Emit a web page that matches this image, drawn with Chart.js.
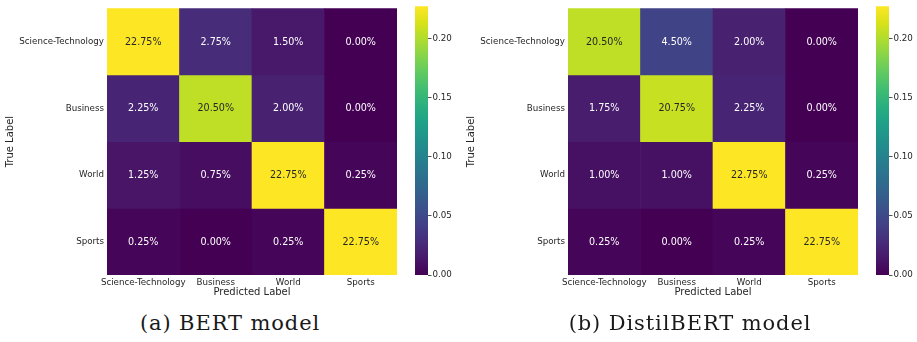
<!DOCTYPE html>
<html>
<head>
<meta charset="utf-8">
<script src="https://cdn.jsdelivr.net/npm/chart.js@4.4.1/dist/chart.umd.min.js"></script>
<style>
  body { margin: 0; background: #fff; }
  #page { position: relative; width: 917px; height: 342px; overflow: hidden; background: #fff; }
  canvas { position: absolute; top: 0; }
  .caption {
    position: absolute; top: 311px; width: 458px; text-align: center;
    font-family: "DejaVu Serif", serif; font-size: 21px; letter-spacing: 0.9px;
    line-height: 24px; color: #1a1a1a; white-space: nowrap;
  }
</style>
</head>
<body>
<div id="page">
  <canvas id="heat-a" width="400" height="300" style="left:0px"></canvas>
  <canvas id="bar-a" width="60" height="300" style="left:405px"></canvas>
  <canvas id="heat-b" width="400" height="300" style="left:461px"></canvas>
  <canvas id="bar-b" width="60" height="300" style="left:866px"></canvas>
  <div class="caption" style="left:1px">(a) BERT model</div>
  <div class="caption" style="left:461px">(b) DistilBERT model</div>
</div>
<script>
// Categories (rows = true label, columns = predicted label)
const classLabels = ['Science-Technology', 'Business', 'World', 'Sports'];

// Confusion matrices, as fractions of all samples
const bertMatrix = [
    [0.2275, 0.0275, 0.0150, 0.0000],
    [0.0225, 0.2050, 0.0200, 0.0000],
    [0.0125, 0.0075, 0.2275, 0.0025],
    [0.0025, 0.0000, 0.0025, 0.2275]
];
const distilMatrix = [
    [0.2050, 0.0450, 0.0200, 0.0000],
    [0.0175, 0.2075, 0.0225, 0.0000],
    [0.0100, 0.0100, 0.2275, 0.0025],
    [0.0025, 0.0000, 0.0025, 0.2275]
];

// Colour bar ticks
const colorbarTicks = [0.00, 0.05, 0.10, 0.15, 0.20];

const textColor = '#262626';
Chart.defaults.font.family = '"DejaVu Sans", sans-serif';
Chart.defaults.color = textColor;

// matplotlib viridis, 17 stops
const viridisStops = ['#440154', '#48186a', '#472d7b', '#424086', '#3b528b', '#33638d',
    '#2c728e', '#26828e', '#21918c', '#1fa088', '#28ae80', '#3fbc73', '#5ec962',
    '#84d44b', '#addc30', '#d8e219', '#fde725'];

function hexToRgb(h) {
    return [parseInt(h.slice(1, 3), 16), parseInt(h.slice(3, 5), 16), parseInt(h.slice(5, 7), 16)];
}

function viridisRgb(t) {
    t = Math.min(1, Math.max(0, t));
    const pos = t * (viridisStops.length - 1);
    const i = Math.min(Math.floor(pos), viridisStops.length - 2);
    const f = pos - i;
    const a = hexToRgb(viridisStops[i]), b = hexToRgb(viridisStops[i + 1]);
    return a.map((c, k) => Math.round(c + (b[k] - c) * f));
}

function viridis(t) {
    const [r, g, b] = viridisRgb(t);
    return `rgb(${r},${g},${b})`;
}

// same rule as seaborn: dark text on light cells
function luminance(rgb) {
    const lin = rgb.map(c => {
        c = c / 255;
        return c <= 0.03928 ? c / 12.92 : Math.pow((c + 0.055) / 1.055, 2.4);
    });
    return 0.2126 * lin[0] + 0.7152 * lin[1] + 0.0722 * lin[2];
}

const cellLabels = {
    id: 'cellLabels',
    afterDatasetsDraw(chart) {
        const ctx = chart.ctx;
        const matrix = chart.options.plugins.cellLabels.matrix;
        const vmax = chart.options.plugins.cellLabels.vmax;
        ctx.save();
        ctx.font = '9.6px "DejaVu Sans"';
        ctx.textAlign = 'center';
        ctx.textBaseline = 'middle';
        chart.data.datasets.forEach((ds, i) => {
            chart.getDatasetMeta(i).data.forEach((bar, j) => {
                const v = matrix[i][j];
                ctx.fillStyle = luminance(viridisRgb(v / vmax)) > 0.408 ? textColor : '#ffffff';
                ctx.fillText((v * 100).toFixed(2) + '%', bar.x, (bar.y + bar.base) / 2 + 0.5);
            });
        });
        ctx.restore();
    }
};

function drawHeatmap(canvasId, matrix, vmax) {
    const datasets = matrix.map((row, i) => ({
        label: classLabels[i],
        data: row.map(() => [i, i + 1]),
        backgroundColor: c => viridis(matrix[c.datasetIndex][c.dataIndex] / vmax),
        borderWidth: 0,
        grouped: false,
        barPercentage: 1,
        categoryPercentage: 1
    }));

    return new Chart(document.getElementById(canvasId), {
        type: 'bar',
        data: { labels: classLabels, datasets: datasets },
        options: {
            responsive: false,
            animation: false,
            events: [],
            layout: { padding: { top: 4, right: 3 } },
            plugins: {
                legend: { display: false },
                tooltip: { enabled: false },
                cellLabels: { matrix: matrix, vmax: vmax }
            },
            scales: {
                x: {
                    grid: { display: false, drawTicks: false },
                    border: { display: false },
                    ticks: { font: { size: 8.7 }, padding: 3, maxRotation: 0, minRotation: 0, autoSkip: false },
                    title: { display: true, text: 'Predicted Label', font: { size: 10 }, padding: { top: 0, bottom: 2 } },
                    afterFit: s => { s.height = 25; }
                },
                y: {
                    type: 'linear',
                    min: 0,
                    max: 4,
                    reverse: true,
                    grid: { display: false, drawTicks: false },
                    border: { display: false },
                    afterBuildTicks: s => { s.ticks = [0.5, 1.5, 2.5, 3.5].map(v => ({ value: v })); },
                    ticks: { font: { size: 8.7 }, padding: 3, autoSkip: false, callback: v => classLabels[Math.floor(v)] },
                    title: { display: true, text: 'True Label', font: { size: 10 }, padding: { top: 4, bottom: 0 } },
                    afterFit: s => { s.width = 107; }
                }
            }
        },
        plugins: [cellLabels]
    });
}

function drawColorbar(canvasId, vmax) {
    return new Chart(document.getElementById(canvasId), {
        type: 'bar',
        data: {
            labels: ['scale'],
            datasets: [{
                data: [[0, vmax]],
                backgroundColor: c => {
                    const chart = c.chart;
                    if (!chart.chartArea) return viridisStops[0];
                    const y0 = chart.scales.y.getPixelForValue(0);
                    const y1 = chart.scales.y.getPixelForValue(vmax);
                    const g = chart.ctx.createLinearGradient(0, y0, 0, y1);
                    viridisStops.forEach((col, k) => g.addColorStop(k / (viridisStops.length - 1), col));
                    return g;
                },
                borderWidth: 0,
                barPercentage: 1,
                categoryPercentage: 1
            }]
        },
        options: {
            responsive: false,
            animation: false,
            events: [],
            layout: { padding: { top: 4, bottom: 25, left: 10 } },
            plugins: { legend: { display: false }, tooltip: { enabled: false } },
            scales: {
                x: { display: false },
                y: {
                    position: 'right',
                    min: 0,
                    max: vmax,
                    grid: { display: true, drawOnChartArea: false, drawTicks: true, tickLength: 3.5, color: textColor, lineWidth: 0.8 },
                    border: { display: false },
                    afterBuildTicks: s => { s.ticks = colorbarTicks.map(v => ({ value: v })); },
                    ticks: { font: { size: 8.7 }, padding: 1, callback: v => v.toFixed(2) },
                    afterFit: s => { s.width = 37; }
                }
            }
        }
    });
}

function matrixMax(m) {
    return Math.max(...m.map(r => Math.max(...r)));
}

drawHeatmap('heat-a', bertMatrix, matrixMax(bertMatrix));
drawColorbar('bar-a', matrixMax(bertMatrix));
drawHeatmap('heat-b', distilMatrix, matrixMax(distilMatrix));
drawColorbar('bar-b', matrixMax(distilMatrix));
</script>
</body>
</html>
